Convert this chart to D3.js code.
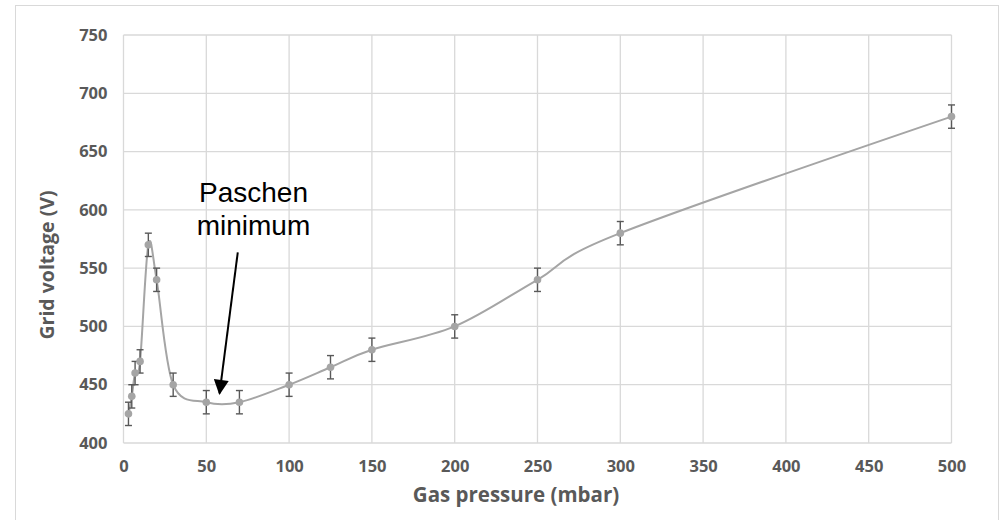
<!DOCTYPE html>
<html>
<head>
<meta charset="utf-8">
<script src="https://cdnjs.cloudflare.com/ajax/libs/d3/7.8.5/d3.min.js"></script>
<style>
  body { margin: 0; background: #fff; }
  svg { display: block; }
</style>
</head>
<body>
<div id="chart"></div>
<script>
// data
const pressure = [3, 5, 7, 10, 15, 20, 30, 50, 70, 100, 125, 150, 200, 250, 300, 500];
const voltage  = [425, 440, 460, 470, 570, 540, 450, 435, 435, 450, 465, 480, 500, 540, 580, 680];
const errV     = [10, 10, 10, 10, 10, 10, 10, 10, 10, 10, 10, 10, 10, 10, 10, 10];
const xTicks = [0, 50, 100, 150, 200, 250, 300, 350, 400, 450, 500];
const yTicks = [400, 450, 500, 550, 600, 650, 700, 750];

const W = 1002, H = 520;
const margin = { top: 35, right: 50, bottom: 77, left: 123.5 },
  width = 951.5 - margin.left,
  height = 443 - margin.top;

const svg = d3.select("#chart")
  .append("svg")
  .attr("width", W)
  .attr("height", H);

// outer chart border
svg.append("rect")
  .attr("x", 15.5).attr("y", 5.5)
  .attr("width", 983).attr("height", 530)
  .attr("fill", "none")
  .attr("stroke", "#d9d9d9");

const g = svg.append("g")
  .attr("transform", `translate(${margin.left},${margin.top})`);

const x = d3.scaleLinear().domain([0, 500]).range([0, width]);
const y = d3.scaleLinear().domain([400, 750]).range([height, 0]);

// gridlines
g.append("g").selectAll("line")
  .data(yTicks).join("line")
  .attr("x1", 0).attr("x2", width)
  .attr("y1", d => y(d)).attr("y2", d => y(d))
  .attr("stroke", "#d9d9d9").attr("stroke-width", 1.3);
g.append("g").selectAll("line")
  .data(xTicks).join("line")
  .attr("y1", 0).attr("y2", height)
  .attr("x1", d => x(d)).attr("x2", d => x(d))
  .attr("stroke", "#d9d9d9").attr("stroke-width", 1.3);

// axes (labels only)
const xAxis = g.append("g")
  .attr("transform", `translate(0,${height})`)
  .call(d3.axisBottom(x).tickValues(xTicks).tickSize(0).tickPadding(17));
const yAxis = g.append("g")
  .call(d3.axisLeft(y).tickValues(yTicks).tickSize(0).tickPadding(16));
[xAxis, yAxis].forEach(a => {
  a.select(".domain").remove();
  a.selectAll("text")
    .style("font-family", "'Open Sans', sans-serif")
    .style("font-weight", 700)
    .style("font-size", "16.5px")
    .attr("fill", "#595959");
});

// axis titles
svg.append("text")
  .attr("x", 516).attr("y", 502)
  .attr("text-anchor", "middle")
  .style("font-family", "'Open Sans', sans-serif")
  .style("font-weight", 700)
  .style("font-size", "20.5px")
  .attr("fill", "#595959")
  .text("Gas pressure (mbar)");
svg.append("text")
  .attr("transform", "translate(54,265) rotate(-90)")
  .attr("text-anchor", "middle")
  .style("font-family", "'Open Sans', sans-serif")
  .style("font-weight", 700)
  .style("font-size", "19.5px")
  .attr("fill", "#595959")
  .text("Grid voltage (V)");

const pts = pressure.map((p, i) => ({ p: p, v: voltage[i], e: errV[i] }));

// smoothed line
const line = d3.line()
  .x(d => x(d.p))
  .y(d => y(d.v))
  .curve(d3.curveCardinal.tension(0));
g.append("path")
  .datum(pts)
  .attr("d", line)
  .attr("fill", "none")
  .attr("stroke", "#a5a5a5")
  .attr("stroke-width", 2);

// error bars
const eb = g.append("g").attr("stroke", "#595959").attr("stroke-width", 1.4);
eb.selectAll(".v").data(pts).join("line")
  .attr("x1", d => x(d.p)).attr("x2", d => x(d.p))
  .attr("y1", d => y(d.v - d.e)).attr("y2", d => y(d.v + d.e));
eb.selectAll(".top").data(pts).join("line")
  .attr("x1", d => x(d.p) - 3.5).attr("x2", d => x(d.p) + 3.5)
  .attr("y1", d => y(d.v + d.e)).attr("y2", d => y(d.v + d.e));
eb.selectAll(".bot").data(pts).join("line")
  .attr("x1", d => x(d.p) - 3.5).attr("x2", d => x(d.p) + 3.5)
  .attr("y1", d => y(d.v - d.e)).attr("y2", d => y(d.v - d.e));

// markers
g.selectAll("circle").data(pts).join("circle")
  .attr("cx", d => x(d.p))
  .attr("cy", d => y(d.v))
  .attr("r", 3.8)
  .attr("fill", "#a5a5a5");

// annotation
const note = g.append("text")
  .attr("text-anchor", "middle")
  .style("font-family", "'Liberation Sans', Arial, sans-serif")
  .style("font-size", "28px")
  .attr("fill", "#000");
note.append("tspan").attr("x", x(78.5)).attr("y", y(606.5)).text("Paschen");
note.append("tspan").attr("x", x(78.5)).attr("y", y(578.5)).text("minimum");

svg.append("defs").append("marker")
  .attr("id", "head")
  .attr("viewBox", "0 0 10 10")
  .attr("refX", 9).attr("refY", 5)
  .attr("markerWidth", 8).attr("markerHeight", 7.5)
  .attr("markerUnits", "strokeWidth")
  .attr("orient", "auto")
  .append("path")
  .attr("d", "M0,0 L10,5 L0,10 Z")
  .attr("fill", "#000");

g.append("line")
  .attr("x1", x(69)).attr("y1", y(563.5))
  .attr("x2", x(58)).attr("y2", y(442.5))
  .attr("stroke", "#000")
  .attr("stroke-width", 2)
  .attr("marker-end", "url(#head)");
</script>
</body>
</html>
